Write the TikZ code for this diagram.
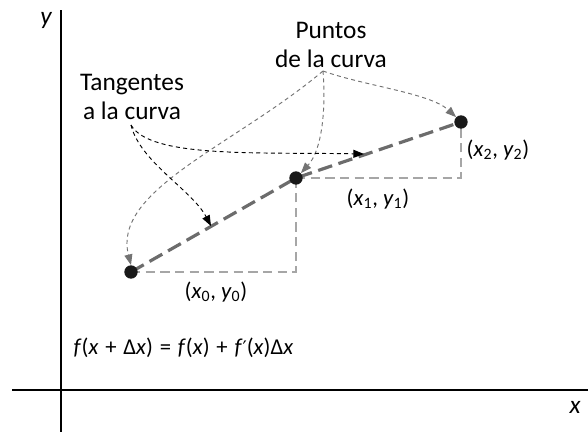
\documentclass[tikz,border=0pt]{standalone}
\usepackage{fontspec}
\setmainfont{Carlito}
\newfontfamily\djv{DejaVu Sans}
\usetikzlibrary{arrows.meta}
\newcommand{\wsp}{\hspace{0.3em}}
\begin{document}
\begin{tikzpicture}[x=0.75pt,y=-0.75pt,
  axis/.style={line width=1pt,black},
  tanline/.style={line width=2.4pt,gray!85!black,dash pattern=on 11pt off 5pt},
  proj/.style={line width=1.2pt,black!35,dash pattern=on 7pt off 4pt},
  blkarrow/.style={line width=0.7pt,black,dash pattern=on 3pt off 2.5pt,-{Triangle[length=8pt,width=6pt]}},
  gryarrow/.style={line width=0.7pt,black!55,dash pattern=on 3pt off 2.5pt,-{Triangle[length=8pt,width=6pt]}},
  pt/.style={circle,fill=black!90,inner sep=0pt,minimum size=10pt},
  lbl/.style={font=\fontsize{19}{22}\selectfont,inner sep=1pt},
  coord/.style={font=\fontsize{17}{20}\selectfont,inner sep=1pt}]
\useasboundingbox (0,0) rectangle (588,432);
% axes
\coordinate (yt) at (61,10);
\coordinate (yb) at (61,432);
\coordinate (xl) at (12,390);
\coordinate (xr) at (588,390);
\draw[axis] (yt) -- (yb);
\draw[axis] (xl) -- (xr);
\node[lbl] (ylab) at (46,20) {\itshape y};
\node[lbl] (xlab) at (575,407) {\itshape x};
% points
\coordinate (c0) at (296,272);
\coordinate (c1) at (461,178);
\draw[proj] (131,272) -- (c0) -- (296,178);
\draw[proj] (296,178) -- (c1) -- (461,122);
\draw[tanline] (131,272) -- (296,178) -- (461,122);
\node[pt] (p0) at (131,272) {};
\node[pt] (p1) at (296,178) {};
\node[pt] (p2) at (461,122) {};
\node[coord] (l0) at (216,292) {(\textit{x}\textsubscript{0}, \textit{y}\textsubscript{0})};
\node[coord] (l1) at (378,199) {(\textit{x}\textsubscript{1}, \textit{y}\textsubscript{1})};
\node[coord] (l2) at (498,150) {(\textit{x}\textsubscript{2}, \textit{y}\textsubscript{2})};
% labels
\node[lbl,align=center] (punt) at (331,45) {Puntos\\de la curva};
\node[lbl,align=center] (tang) at (132,97) {Tangentes\\a la curva};
\coordinate (ps) at (323,71);
\coordinate (ts) at (131,125);
\coordinate (t1) at (364,154);
\coordinate (t0) at (211,226);
% arrows from Puntos
\draw[gryarrow] (ps) .. controls (365,86) and (430,93) .. (p2.north west);
\draw[gryarrow] (ps) .. controls (326,110) and (322,150) .. (p1.north east);
\draw[gryarrow] (ps) .. controls (235,145) and (112,190) .. (p0.north);
% arrows from Tangentes
\draw[blkarrow] (ts) .. controls (150,158) and (255,152) .. (t1);
\draw[blkarrow] (ts) .. controls (140,162) and (192,190) .. (t0);
% formula
\node[coord,anchor=west] (form) at (72,348) {\textit{f}(\textit{x}\wsp+\wsp Δ\textit{x})\wsp=\wsp\textit{f}(\textit{x})\wsp+\wsp\textit{f}{\djv\fontsize{14}{16}\selectfont ′}(\textit{x})Δ\textit{x}};
\end{tikzpicture}
\end{document}
